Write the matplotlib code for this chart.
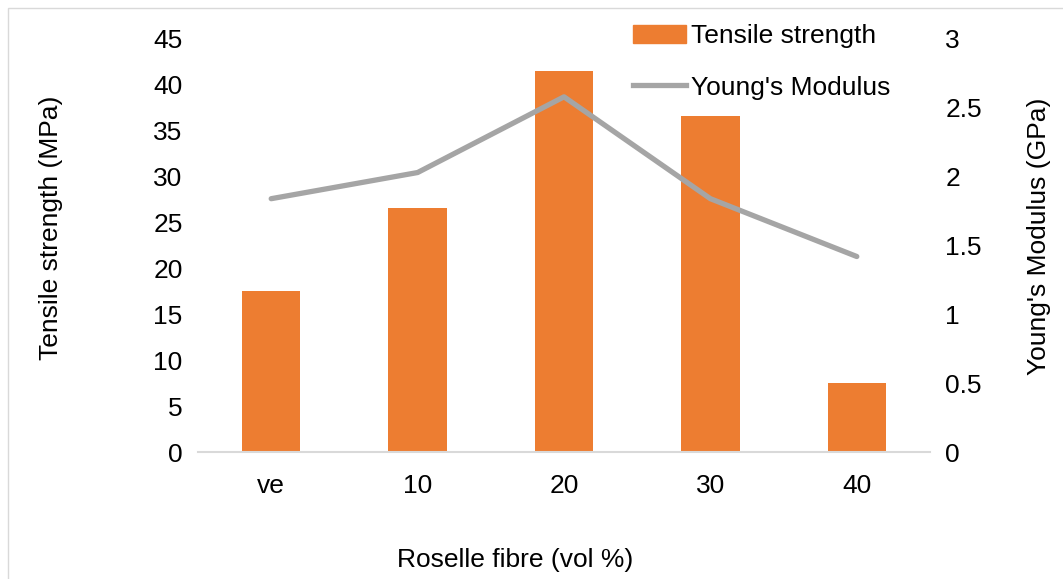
import matplotlib.pyplot as plt
import matplotlib.patches as mpatches
from matplotlib.lines import Line2D

plt.rcParams['font.family'] = ['Liberation Sans', 'DejaVu Sans']

# Roselle fibre content vs mechanical properties
categories = ['ve', '10', '20', '30', '40']
tensile_strength = [17.5, 26.6, 41.5, 36.6, 7.5]   # MPa
youngs_modulus = [1.84, 2.03, 2.58, 1.84, 1.42]    # GPa

orange = '#ED7D31'
grey = '#A5A5A5'
fs = 19

fig = plt.figure(figsize=(10.63, 5.79), dpi=100)
ax = fig.add_axes([198 / 1063, 1 - 452 / 579, 732 / 1063, 413 / 579])
ax2 = ax.twinx()

x = range(len(categories))
ax.bar(x, tensile_strength, width=0.4, color=orange, zorder=2)
ax2.plot(x, youngs_modulus, color=grey, lw=3.8, solid_capstyle='round', zorder=3)

ax.set_xlim(-0.5, len(categories) - 0.5)
ax.set_ylim(0, 45)
ax.set_yticks(range(0, 46, 5))
ax2.set_ylim(0, 3)
ax2.set_yticks([0, 0.5, 1, 1.5, 2, 2.5, 3])
ax2.set_yticklabels(['0', '0.5', '1', '1.5', '2', '2.5', '3'])
ax.set_xticks(list(x))
ax.set_xticklabels(categories)

for a in (ax, ax2):
    for s in a.spines.values():
        s.set_visible(False)
    a.tick_params(length=0, labelsize=fs, colors='black')
ax.spines['bottom'].set_visible(True)
ax.spines['bottom'].set_color('#D9D9D9')
ax.spines['bottom'].set_linewidth(1.5)
ax.tick_params(axis='x', pad=16)
ax.tick_params(axis='y', pad=11)
ax2.tick_params(axis='y', pad=11)

ax.set_xlabel('Roselle fibre (vol %)', fontsize=fs)
ax.xaxis.set_label_coords(0.433, -0.232)
ax.set_ylabel('Tensile strength (MPa)', fontsize=fs)
ax.yaxis.set_label_coords(-0.185, 0.542)
ax2.set_ylabel("Young's Modulus (GPa)", fontsize=fs)
ax2.yaxis.set_label_coords(1.132, 0.523)

handles = [mpatches.Patch(color=orange, label='Tensile strength'),
           Line2D([], [], color=grey, lw=3.8, label="Young's Modulus")]
fig.legend(handles=handles, loc='upper left',
           bbox_to_anchor=(633 / 1063, 1 - 24 / 579), frameon=False,
           fontsize=fs, handlelength=2.0, handletextpad=0.2,
           labelspacing=1.05, borderpad=0, borderaxespad=0)

# light outer frame
fig.patches.append(mpatches.Rectangle((8 / 1063, -0.1), 1.2, 1.1 - 8 / 579,
                                      transform=fig.transFigure, fill=False,
                                      edgecolor='#D9D9D9', lw=1))

fig.savefig('out.png', dpi=100)
